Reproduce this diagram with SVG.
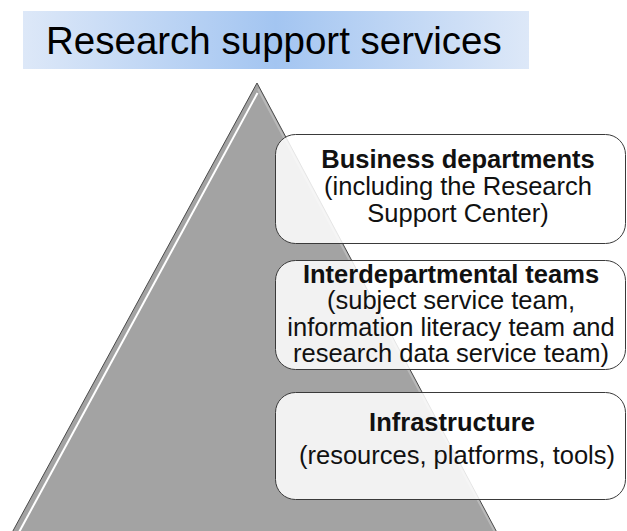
<svg xmlns="http://www.w3.org/2000/svg" width="627" height="531" viewBox="0 0 627 531">
  <defs>
    <linearGradient id="hdr" x1="0" y1="0" x2="1" y2="0">
      <stop offset="0" stop-color="#dde8f8"/>
      <stop offset="0.5" stop-color="#a3c5f1"/>
      <stop offset="1" stop-color="#dde8f8"/>
    </linearGradient>
  </defs>
  <style>
    .box { fill: #ffffff; fill-opacity: 0.86; stroke: #3a3a3a; stroke-width: 1; }
    .t { font-family: "Liberation Sans", Arial, sans-serif; font-size: 25.5px; fill: #111; text-anchor: middle; }
    .b { font-weight: bold; }
  </style>

  <g id="header">
    <rect x="23" y="11" width="506" height="58" fill="url(#hdr)"/>
    <text x="46" y="54" font-family="Liberation Sans, Arial, sans-serif" font-size="38.5" fill="#000">Research support services</text>
  </g>

  <g id="pyramid">
    <polygon points="257,83 8,540 501,540" fill="#a3a3a3" stroke="#4a4a4a" stroke-width="1" stroke-linejoin="round"/>
    <line x1="257.5" y1="93" x2="18" y2="534" stroke="#ffffff" stroke-width="2"/>
    <line x1="258" y1="89" x2="497" y2="536" stroke="#c8c8c8" stroke-width="2" opacity="0.6"/>
  </g>

  <g id="business">
    <rect class="box" x="275.5" y="134.5" width="350" height="109" rx="20"/>
    <text class="t b" x="458" y="168">Business departments</text>
    <text class="t" x="458" y="195">(including the Research</text>
    <text class="t" x="458" y="222">Support Center)</text>
  </g>

  <g id="interdepartmental">
    <rect class="box" x="275.5" y="260.5" width="350" height="109" rx="20"/>
    <text class="t b" x="451" y="283">Interdepartmental teams</text>
    <text class="t" x="451" y="309">(subject service team,</text>
    <text class="t" x="451" y="336">information literacy team and</text>
    <text class="t" x="451" y="362">research data service team)</text>
  </g>

  <g id="infrastructure">
    <rect class="box" x="275.5" y="392.5" width="350" height="107" rx="20"/>
    <text class="t b" x="452" y="431">Infrastructure</text>
    <text class="t" x="457" y="464">(resources, platforms, tools)</text>
  </g>

  <g id="connectors"/>
</svg>
